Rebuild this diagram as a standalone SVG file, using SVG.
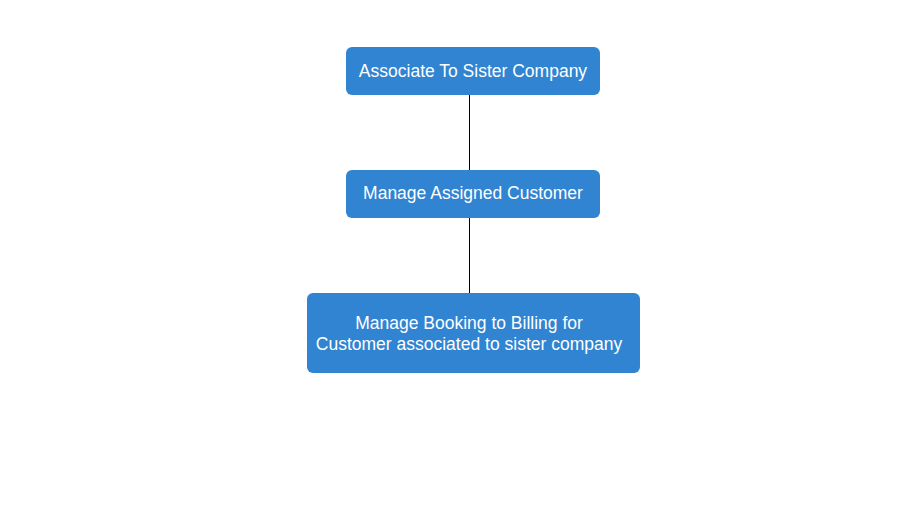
<svg xmlns="http://www.w3.org/2000/svg" width="913" height="510" viewBox="0 0 913 510">
<style>
.box{fill:#3084d1;}
.t{font-family:"Liberation Sans",Arial,sans-serif;font-size:17.5px;fill:#ffffff;text-anchor:middle;}
.c{stroke:#000000;stroke-width:1;fill:none;}
</style>
<rect width="913" height="510" fill="#ffffff"/>
<g id="connectors">
<line class="c" x1="469.5" y1="95" x2="469.5" y2="170"/>
<line class="c" x1="469.5" y1="218" x2="469.5" y2="293"/>
</g>
<g id="n1">
<rect class="box" x="346" y="47" width="254" height="48" rx="6"/>
<text class="t" x="473" y="77">Associate To Sister Company</text>
</g>
<g id="n2">
<rect class="box" x="346" y="170" width="254" height="48" rx="6"/>
<text class="t" x="473" y="199">Manage Assigned Customer</text>
</g>
<g id="n3">
<rect class="box" x="307" y="293" width="333" height="80" rx="6"/>
<text class="t" x="469" y="329">Manage Booking to Billing for</text>
<text class="t" x="469" y="350">Customer associated to sister company</text>
</g>
</svg>
